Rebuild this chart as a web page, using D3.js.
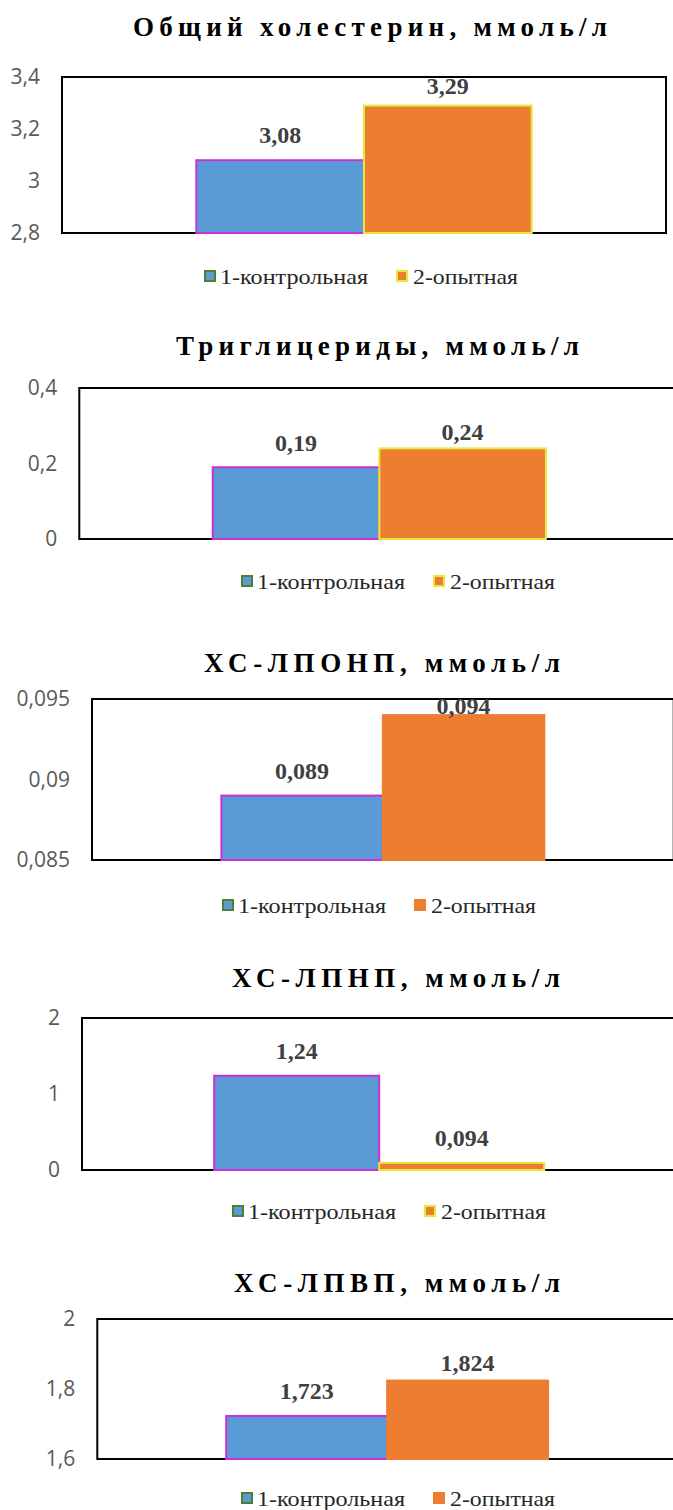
<!DOCTYPE html>
<html><head><meta charset="utf-8">
<script src="https://cdn.jsdelivr.net/npm/d3@7"></script>
<style>body{margin:0;background:#fff}svg{display:block}</style>
</head><body>
<svg id="c" width="673" height="1510"></svg>
<script>
// ---- data ----
const titles = ["Общий холестерин, ммоль/л","Триглицериды, ммоль/л","ХС-ЛПОНП, ммоль/л","ХС-ЛПНП, ммоль/л","ХС-ЛПВП, ммоль/л"];
const seriesNames = ["1-контрольная","2-опытная"];
const controlValues = [3.08, 0.19, 0.089, 1.24, 1.723];
const experimentalValues = [3.29, 0.24, 0.094, 0.094, 1.824];
const yDomains = [[2.8,3.4],[0,0.4],[0.085,0.095],[0,2],[1.6,2]];
const tickValues = [[2.8,3,3.2,3.4],[0,0.2,0.4],[0.085,0.09,0.095],[0,1,2],[1.6,1.8,2]];
const tickLabels = [["2,8","3","3,2","3,4"],["0","0,2","0,4"],["0,085","0,09","0,095"],["0","1","2"],["1,6","1,8","2"]];
const category = ["group"];

// ---- layout ----
const layout = [
 {L:62,  R:666,   T:77,   B:233,  tL:133, tR:607, tY:36,   lgX:204, lgY:284,  edge2:true,  dy:[17,12]},
 {L:79.3,R:679.3, T:388,  B:539,  tL:176, tR:579, tY:355,  lgX:241, lgY:589,  edge2:true,  dy:[16,8]},
 {L:92,  R:673.7, T:699,  B:860,  tL:204, tR:560, tY:672,  lgX:222, lgY:913,  edge2:false, dy:[17,1]},
 {L:82,  R:676.4, T:1018, B:1170, tL:232, tR:560, tY:987,  lgX:232, lgY:1219, edge2:true,  dy:[17,17]},
 {L:97.3,R:677,   T:1319, B:1459, tL:234, tR:560, tY:1292, lgX:241, lgY:1506, edge2:false, dy:[17,10]}
];
const fills = ["#5B9BD5","#ED7D31"];
const barStroke1 = "#CC2FD6";
const yellow = "#E6E83C";
const legendGreen = "#507E32";
const serif = '"Liberation Serif", "Times New Roman", serif';
const sans = '"Open Sans", sans-serif';

const svg = d3.select("#c");

layout.forEach((lay, i) => {
  const g = svg.append("g");
  const x0 = d3.scaleBand().domain(category).range([lay.L, lay.R]).padding(0.286);
  const x1 = d3.scaleBand().domain(seriesNames).range([0, x0.bandwidth()]);
  const y = d3.scaleLinear().domain(yDomains[i]).range([lay.B, lay.T]);

  // title
  const t = g.append("text").attr("x", lay.tL).attr("y", lay.tY)
    .style("font-family", serif).style("font-weight", "bold").style("font-size", "27px")
    .attr("fill", "#000").text(titles[i]);
  const nat = t.node().getComputedTextLength();
  const n = titles[i].length;
  t.style("letter-spacing", (((lay.tR - lay.tL) - nat) / (n - 1)) + "px");

  // plot box
  g.append("rect").attr("x", lay.L).attr("y", lay.T)
    .attr("width", lay.R - lay.L).attr("height", lay.B - lay.T)
    .attr("fill", "none").attr("stroke", "#000").attr("stroke-width", 2);

  // y axis
  const ax = g.append("g").attr("transform", `translate(${lay.L},0)`)
    .call(d3.axisLeft(y).tickValues(tickValues[i])
      .tickFormat((d, j) => tickLabels[i][j]).tickSize(0).tickPadding(22));
  ax.select(".domain").remove();
  ax.selectAll("text").style("font-family", sans)
    .style("font-size", "21px").attr("fill", "#595959");

  // bars
  const vals = [controlValues[i], experimentalValues[i]];
  const bars = seriesNames.map((s, k) => ({s, k, v: vals[k]}));
  g.selectAll("rect.bar").data(bars).enter().append("rect").attr("class", "bar")
    .attr("x", d => x0("group") + x1(d.s))
    .attr("y", d => y(d.v))
    .attr("width", x1.bandwidth())
    .attr("height", d => lay.B - y(d.v))
    .attr("fill", d => fills[d.k])
    .attr("stroke", d => d.k === 0 ? barStroke1 : (lay.edge2 ? yellow : fills[1]))
    .attr("stroke-width", 2);

  // value labels
  g.selectAll("text.val").data(bars).enter().append("text").attr("class", "val")
    .attr("x", d => x0("group") + x1(d.s) + x1.bandwidth() / 2)
    .attr("y", d => y(d.v) - lay.dy[d.k])
    .attr("text-anchor", "middle")
    .style("font-family", serif).style("font-weight", "bold").style("font-size", "24px")
    .attr("fill", "#404040")
    .text(d => String(d.v).replace(".", ","));

  // legend
  const lg = g.append("g");
  const lgItems = [
    {name: seriesNames[0], sx: lay.lgX, tx: lay.lgX + 16, tw: 148, fill: fills[0], stroke: legendGreen},
    {name: seriesNames[1], sx: lay.lgX + 192, tx: lay.lgX + 209, tw: 105, fill: fills[1], stroke: lay.edge2 ? yellow : fills[1]}
  ];
  lgItems.forEach(it => {
    lg.append("rect").attr("x", it.sx + 1).attr("y", lay.lgY - 13)
      .attr("width", 10).attr("height", 10)
      .attr("fill", it.fill).attr("stroke", it.stroke).attr("stroke-width", 2);
    lg.append("text").attr("x", it.tx).attr("y", lay.lgY)
      .style("font-family", serif).style("font-size", "21px").attr("fill", "#262626")
      .attr("textLength", it.tw).attr("lengthAdjust", "spacingAndGlyphs")
      .text(it.name);
  });
});
</script>
</body></html>
